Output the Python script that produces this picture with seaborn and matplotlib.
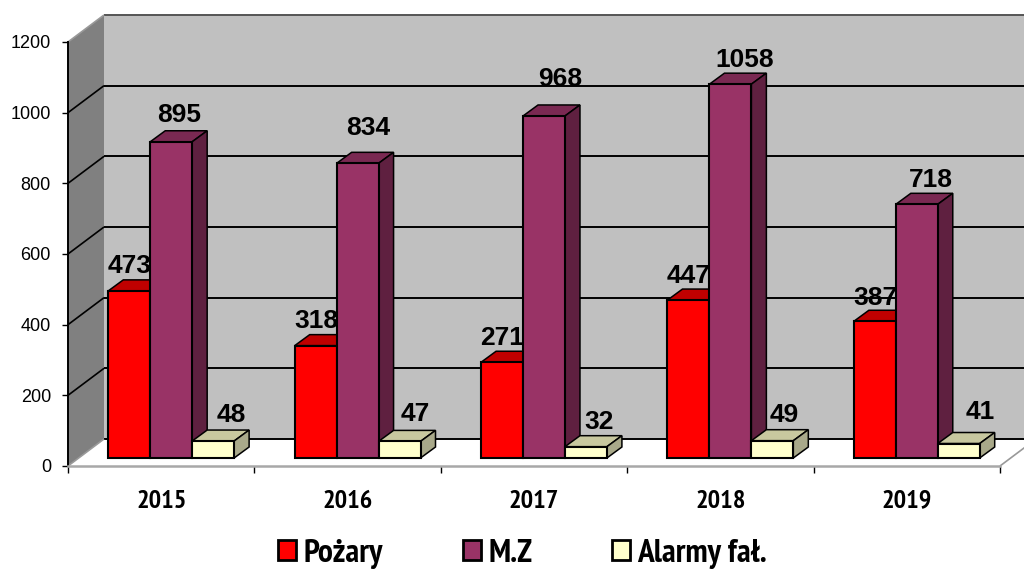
import numpy as np
import pandas as pd
import seaborn as sns
import matplotlib.pyplot as plt
from matplotlib.patches import Polygon
from matplotlib.transforms import Affine2D, IdentityTransform

# values
years = ['2015', '2016', '2017', '2018', '2019']
pozary = [473, 318, 271, 447, 387]
mz = [895, 834, 968, 1058, 718]
alarmy = [48, 47, 32, 49, 41]
series_names = ['Pożary', 'M.Z', 'Alarmy fał.']
y_ticks = [0, 200, 400, 600, 800, 1000, 1200]

sns.set_theme(style='white')
plt.rcParams['font.family'] = ['Liberation Sans', 'DejaVu Sans']
NARROW = ['PT Sans Narrow', 'Roboto Condensed', 'Liberation Sans']

# front, top, side colour per series
front = ['#ff0000', '#993366', '#ffffcc']
top = ['#c00000', '#7a2952', '#c8c89f']
side = ['#800000', '#5f2040', '#a9a98a']

# pixel offsets of the fake 3d
WALL = (36, 27)
BAR = (10, 8)
DEPTH = (15, 11)
# label nudges in pixels, the labels were placed by hand in the original
label_dx = [[0.5, 0.5, 0.5, 0.5, 0.5], [7.5, 11, 16.5, 14, 14.5], [18.5, 15.5, 13.5, 11.5, 21.5]]
label_dy = [[18, 18, 17, 17, 16], [20, 28, 30, 17, 17], [19, 20, 18, 19, 25]]

df = pd.DataFrame({'rok': years * 3,
                   'ile': pozary + mz + alarmy,
                   'typ': np.repeat(series_names, len(years))})

fig = plt.figure(figsize=(10.24, 5.69), dpi=100)
ax = fig.add_axes([68 / 1024, 1 - 466 / 569, 932 / 1024, 424 / 569])
ax.patch.set_visible(False)

sns.barplot(data=df, x='rok', y='ile', hue='typ', palette=front, width=0.675, saturation=1,
            gap=0, edgecolor='black', linewidth=1.5, errorbar=None, ax=ax)
ax.set_xlim(-0.5, 4.5)
ax.set_ylim(0, 1200)
ax.set_xlabel('')
ax.set_ylabel('')


def px(x, y, offset=(0, 0)):
    p = ax.transData.transform((x, y))
    return p[0] + offset[0], p[1] + offset[1]


def poly(points, color, z, edge='none', lw=0):
    ax.add_patch(Polygon(points, closed=True, facecolor=color, edgecolor=edge, linewidth=lw,
                         transform=IdentityTransform(), clip_on=False, zorder=z))


def seg(a, b, color, lw, z):
    ax.plot([a[0], b[0]], [a[1], b[1]], color=color, lw=lw, transform=IdentityTransform(),
            clip_on=False, zorder=z, solid_capstyle='butt')


x0, x1 = ax.get_xlim()
# walls and floor
poly([px(x0, 0, WALL), px(x1, 0, WALL), px(x1, 1200, WALL), px(x0, 1200, WALL)], '#c0c0c0', 0.1)
poly([px(x0, 0), px(x0, 0, WALL), px(x0, 1200, WALL), px(x0, 1200)], '#808080', 0.2)
poly([px(x0, 0), px(x1, 0), px(x1, 0, WALL), px(x0, 0, WALL)], 'white', 0.2)

# grid on back and left wall
for v in y_ticks:
    c = '#555555' if v == 1200 else 'black'
    seg(px(x0, v, WALL), px(x1, v, WALL), c, 1.4, 0.3)
    if v == 0 or v == 1200:
        c = '#999999'
    seg(px(x0, v), px(x0, v, WALL), c, 1.2, 0.3)
seg(px(x1, 0), px(x1, 0, WALL), '#999999', 1.2, 0.3)

# bars, moved into the box and given a top and a side
for s, cont in enumerate(ax.containers):
    for g, bar in enumerate(cont):
        z = 1 + g + s * 0.1
        xa, xb, h = bar.get_x(), bar.get_x() + bar.get_width(), bar.get_height()
        bar.set_transform(ax.transData + Affine2D().translate(*BAR))
        bar.set_clip_on(False)
        bar.set_zorder(z + 0.02)
        a, b = px(xa, h, BAR), px(xb, h, BAR)
        c = px(xb, 0, BAR)
        poly([a, b, (b[0] + DEPTH[0], b[1] + DEPTH[1]), (a[0] + DEPTH[0], a[1] + DEPTH[1])],
             top[s], z, 'black', 1.1)
        poly([b, c, (c[0] + DEPTH[0], c[1] + DEPTH[1]), (b[0] + DEPTH[0], b[1] + DEPTH[1])],
             side[s], z, 'black', 1.1)
        ax.annotate(str(int(h)), xy=((xa + xb) / 2, h),
                    xytext=(BAR[0] + label_dx[s][g], BAR[1] + label_dy[s][g]),
                    xycoords='data', textcoords='offset pixels', ha='center', va='baseline',
                    fontsize=19, fontweight='bold', color='black', zorder=20, annotation_clip=False)

# axes
for name in ['top', 'right']:
    ax.spines[name].set_visible(False)
ax.spines['left'].set_color('black')
ax.spines['left'].set_linewidth(1.4)
ax.spines['left'].set_zorder(0.5)
ax.spines['bottom'].set_color('#a8a8a8')
ax.spines['bottom'].set_linewidth(1.8)

ax.set_yticks(y_ticks)
ax.tick_params(axis='y', length=4.3, width=1, color='black', pad=8, labelsize=13, left=True,
               labelcolor='black')
ax.set_xticks(np.arange(len(years) + 1) - 0.5)
ax.set_xticklabels([])
ax.set_xticks(np.arange(len(years)), labels=years, minor=True)
ax.tick_params(axis='x', which='major', length=5, width=1, color='black', bottom=True)
ax.tick_params(axis='x', which='minor', length=0, pad=17, bottom=False)
ax.xaxis.get_major_ticks()[-1].tick1line.set_color('#808080')
for t in ax.get_xticklabels(minor=True):
    t.set_fontfamily(NARROW)
    t.set_fontweight('bold')
    t.set_fontsize(19)
    t.set_color('black')

sns.move_legend(ax, 'lower left', bbox_to_anchor=(278 / 1024, 0 / 569), bbox_transform=fig.transFigure,
                ncol=3, title=None, frameon=False, borderpad=0, borderaxespad=0,
                handlelength=0.54, handleheight=0.54, handletextpad=0.22, columnspacing=2.4,
                prop={'family': NARROW, 'weight': 'bold', 'size': 24})
for h in ax.get_legend().get_patches():
    h.set_edgecolor('black')
    h.set_linewidth(2)
for t in ax.get_legend().get_texts():
    t.set_color('black')
ax.get_legend().set_zorder(30)

fig.savefig('out.png', dpi=100)
